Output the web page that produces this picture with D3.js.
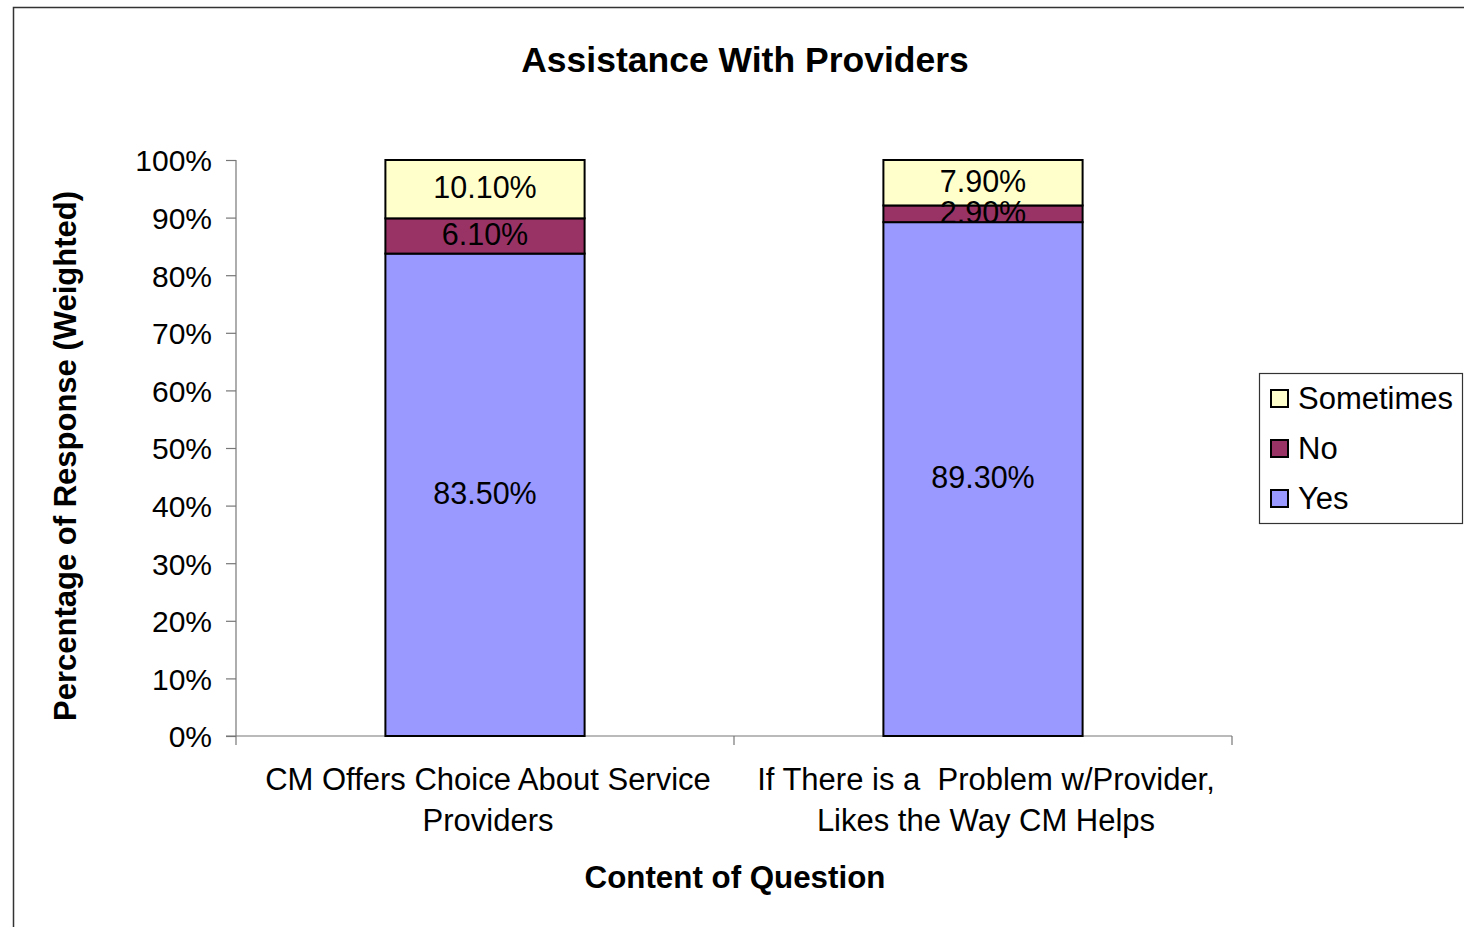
<!DOCTYPE html>
<html>
<head>
<meta charset="utf-8">
<style>
  body { margin: 0; background: #fff; }
  svg { display: block; }
  text { font-family: Arial, "Liberation Sans", sans-serif; fill: #000; }
  .tick text { font-size: 30px; }
  .label { font-size: 30.5px; }
  .cat { font-size: 31px; white-space: pre; }
  .bold { font-weight: bold; }
</style>
</head>
<body>
<script src="https://d3js.org/d3.v7.min.js"></script>
<script>

// data
var categories = [
  ["CM Offers Choice About Service", "Providers"],
  ["If There is a  Problem w/Provider,", "Likes the Way CM Helps"]
];
var seriesNames = ["Yes", "No", "Sometimes"];
var yesValues = [83.5, 89.3];
var noValues = [6.1, 2.9];
var sometimesValues = [10.1, 7.9];
var yTicks = [0, 0.1, 0.2, 0.3, 0.4, 0.5, 0.6, 0.7, 0.8, 0.9, 1];

var colors = { "Yes": "#9999ff", "No": "#993366", "Sometimes": "#ffffcc" };

var width = 1464, height = 927;
var margin = { top: 160, left: 236, right: 232, bottom: 191 };

var svg = d3.select("body").append("svg")
    .attr("width", width)
    .attr("height", height);

// outer chart border (runs off the right/bottom of the picture)
svg.append("rect")
    .attr("x", 13.5).attr("y", 7.5)
    .attr("width", 1500).attr("height", 1000)
    .attr("fill", "none")
    .attr("stroke", "#333").attr("stroke-width", 1.5);

var rows = categories.map(function(c, i) {
  return { key: i, Yes: yesValues[i], No: noValues[i], Sometimes: sometimesValues[i] };
});

var stack = d3.stack().keys(seriesNames).offset(d3.stackOffsetExpand);
var layers = stack(rows);

var x = d3.scaleBand()
    .domain(d3.range(categories.length))
    .range([margin.left, width - margin.right])
    .paddingInner(0.6)
    .paddingOuter(0.3);

var y = d3.scaleLinear()
    .domain([0, 1])
    .range([height - margin.bottom, margin.top]);

// y axis
var yAxis = svg.append("g")
    .attr("transform", "translate(" + margin.left + ",0)")
    .call(d3.axisLeft(y).tickValues(yTicks).tickFormat(d3.format(".0%")).tickSize(10).tickPadding(14));
yAxis.selectAll("line, path").attr("stroke", "#777").attr("stroke-width", 1.2);
yAxis.select(".domain").attr("d", "M0," + y(0) + "V" + y(1));
yAxis.selectAll(".tick text").attr("font-family", null).attr("font-size", null).attr("dy", "0.36em");

// x axis baseline with ticks at category boundaries
var xBase = y(0);
svg.append("line")
    .attr("x1", margin.left - 10).attr("x2", width - margin.right)
    .attr("y1", xBase).attr("y2", xBase)
    .attr("stroke", "#777").attr("stroke-width", 1.2);
var bounds = [0, 1, 2].map(function(i) {
  return margin.left + i * (width - margin.right - margin.left) / categories.length;
});
svg.selectAll(".xtick").data(bounds).enter().append("line")
    .attr("x1", function(d) { return d; }).attr("x2", function(d) { return d; })
    .attr("y1", xBase).attr("y2", xBase + 9)
    .attr("stroke", "#777").attr("stroke-width", 1.2);

// bars
var groups = svg.selectAll(".layer").data(layers).enter().append("g")
    .attr("fill", function(d) { return colors[d.key]; });

groups.selectAll("rect").data(function(d) { return d; }).enter().append("rect")
    .attr("x", function(d, i) { return x(i); })
    .attr("width", x.bandwidth())
    .attr("y", function(d) { return y(d[1]); })
    .attr("height", function(d) { return y(d[0]) - y(d[1]); })
    .attr("stroke", "#000").attr("stroke-width", 2);

// value labels
var rawVals = { "Yes": yesValues, "No": noValues, "Sometimes": sometimesValues };
layers.forEach(function(layer) {
  svg.selectAll(".lab-" + layer.key).data(layer).enter().append("text")
      .attr("class", "label")
      .attr("text-anchor", "middle")
      .attr("x", function(d, i) { return x(i) + x.bandwidth() / 2; })
      .attr("y", function(d) { return (y(d[0]) + y(d[1])) / 2 - 2; })
      .attr("dy", "0.36em")
      .text(function(d, i) { return rawVals[layer.key][i].toFixed(2) + "%"; });
});

// category labels
categories.forEach(function(lines, i) {
  var t = svg.append("text")
      .attr("class", "cat")
      .attr("text-anchor", "middle")
      .attr("x", x(i) + x.bandwidth() / 2 + 3)
      .attr("y", 790);
  lines.forEach(function(line, j) {
    t.append("tspan")
        .attr("x", x(i) + x.bandwidth() / 2 + 3)
        .attr("dy", j == 0 ? 0 : 41)
        .text(line);
  });
});

// titles
svg.append("text")
    .attr("class", "bold")
    .attr("text-anchor", "middle")
    .attr("x", 745).attr("y", 72)
    .style("font-size", "35.5px")
    .text("Assistance With Providers");

svg.append("text")
    .attr("class", "bold")
    .attr("text-anchor", "middle")
    .attr("x", 735).attr("y", 888)
    .style("font-size", "31.3px")
    .text("Content of Question");

svg.append("text")
    .attr("class", "bold")
    .attr("text-anchor", "middle")
    .attr("transform", "translate(76,456) rotate(-90)")
    .style("font-size", "31px")
    .text("Percentage of Response (Weighted)");

// legend
var legend = svg.append("g").attr("transform", "translate(1259,373)");
legend.append("rect")
    .attr("x", 0.5).attr("y", 0.5)
    .attr("width", 203).attr("height", 150)
    .attr("fill", "#fff").attr("stroke", "#333").attr("stroke-width", 1.2);

var legendItems = seriesNames.slice().reverse();
var li = legend.selectAll(".li").data(legendItems).enter().append("g")
    .attr("transform", function(d, i) { return "translate(12," + (25 + i * 50) + ")"; });
li.append("rect")
    .attr("x", 0).attr("y", -8)
    .attr("width", 17).attr("height", 17)
    .attr("fill", function(d) { return colors[d]; })
    .attr("stroke", "#000").attr("stroke-width", 2);
li.append("text")
    .attr("x", 27).attr("y", 0)
    .attr("dy", "0.36em")
    .style("font-size", "31px")
    .text(function(d) { return d; });

</script>
</body>
</html>
